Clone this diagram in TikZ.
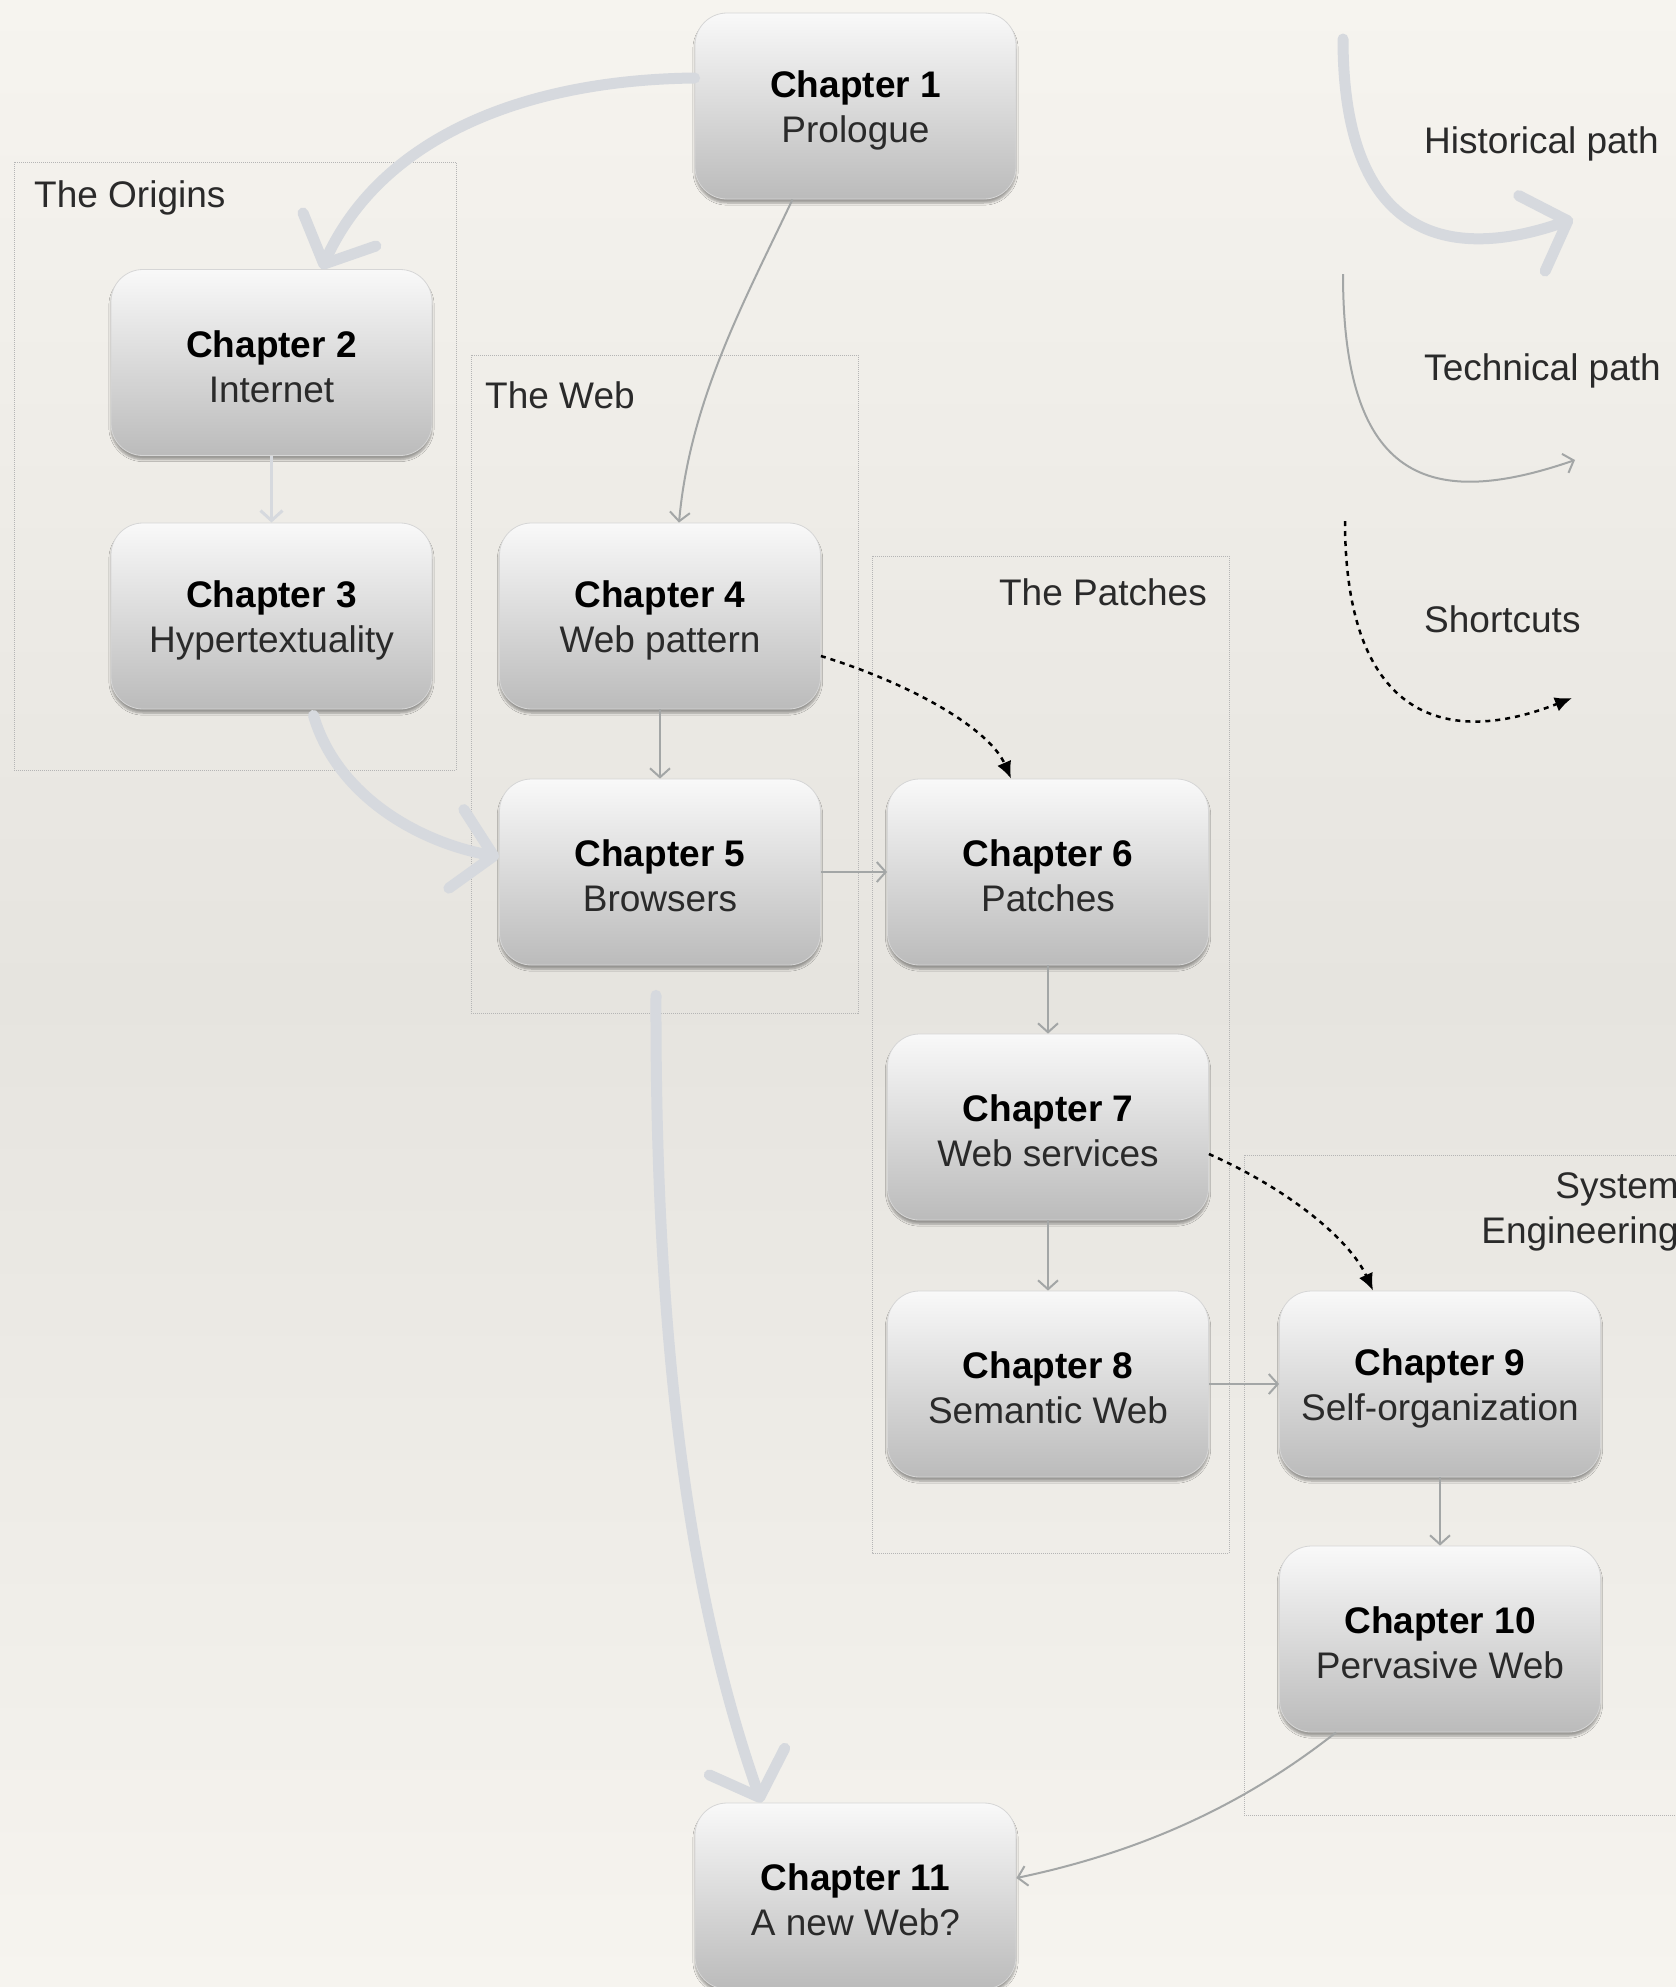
\documentclass[tikz,border=0pt]{standalone}
\usepackage{fontspec}
\setmainfont{Liberation Sans}
\usetikzlibrary{arrows.meta,shadows.blur,calc}
\definecolor{bgA}{HTML}{F6F4EF}
\definecolor{bgB}{HTML}{E6E4DF}
\definecolor{boxTop}{HTML}{F9F9F9}
\definecolor{boxBot}{HTML}{BBBBBB}
\definecolor{histC}{HTML}{D6D9DE}
\definecolor{techC}{HTML}{A3A6A6}
\definecolor{frameC}{HTML}{B5B5B5}
\definecolor{txtC}{HTML}{2A2A2A}
\newcommand\chtext[2]{\rule{0pt}{35pt}\textbf{\color{black}#1}\\#2}
\begin{document}
\begin{tikzpicture}[x=1pt,y=-1pt,
  chap/.style={rectangle, rounded corners=32pt, minimum width=321pt, minimum height=186pt,
    top color=boxTop, bottom color=boxBot, draw=boxBot!60!white, line width=0.8pt,
    align=center, font=\fontsize{37}{45}\selectfont, text=txtC,
    blur shadow={shadow xshift=0pt, shadow yshift=-4pt, shadow blur steps=6, shadow opacity=35}},
  hist/.style={draw=histC, line width=11pt, line cap=round, -{Straight Barb[length=38pt,width=80pt,round]}},
  tech/.style={draw=techC, line width=2pt, -{Straight Barb[length=9pt,width=20pt]}},
  lightarr/.style={draw=histC, line width=3pt, -{Straight Barb[length=10pt,width=22pt]}},
  shortc/.style={draw=black, line width=2.5pt, dash pattern=on 5pt off 5pt, -{Latex[length=17pt,width=15pt]}},
  grp/.style={draw=frameC, line width=1pt, densely dotted},
  lbl/.style={font=\fontsize{37}{45}\selectfont, text=txtC, inner sep=0pt},
]
\useasboundingbox (0,0) rectangle (1676,1987);
\shade[top color=bgA, bottom color=bgA, middle color=bgB] (0,0) rectangle (1676,1987);

% group frames
\draw[grp] (14,162) rectangle (456,770);
\draw[grp] (471,355) rectangle (858,1013);
\draw[grp] (872,556) rectangle (1229,1553);
\draw[grp] (1244,1155) rectangle (1700,1815);

\node[lbl, anchor=west] (gOrig) at (34,198) {The Origins};
\node[lbl, anchor=west] (gWeb) at (485,395) {The Web};
\node[lbl, anchor=east] (gPatch) at (1207,592) {The Patches};
\node[lbl, anchor=east, align=right] (gSys) at (1679,1212) {System\\Engineering};

% chapters
\node[chap] (c1) at (855.5,106) {\chtext{Chapter 1}{Prologue}};
\node[chap] (c2) at (271.5,362.5) {\chtext{Chapter 2}{Internet}};
\node[chap] (c3) at (271.5,616) {\chtext{Chapter 3}{Hypertextuality}};
\node[chap] (c4) at (660,616) {\chtext{Chapter 4}{Web pattern}};
\node[chap] (c5) at (660,872) {\chtext{Chapter 5}{Browsers}};
\node[chap] (c6) at (1048,872) {\chtext{Chapter 6}{Patches}};
\node[chap] (c7) at (1048,1127) {\chtext{Chapter 7}{Web services}};
\node[chap] (c8) at (1048,1384) {\chtext{Chapter 8}{Semantic Web}};
\node[chap] (c9) at (1440,1384) {\chtext{Chapter 9}{Self-organization}};
\node[chap] (c10) at (1440,1639) {\chtext{Chapter 10}{Pervasive Web}};
\node[chap] (c11) at (855.5,1896) {\chtext{Chapter 11}{A new Web?}};

% historical path
\draw[hist] ([yshift=28pt]c1.west) .. controls (520,80) and (380,140) .. ([xshift=50pt]c2.north);
\draw[hist] ([xshift=42pt,yshift=-6pt]c3.south) .. controls (335,790) and (410,840) .. ([yshift=15pt]c5.west);
\draw[hist] ([xshift=-4pt,yshift=-30pt]c5.south) .. controls (655,1350) and (690,1600) .. ([xshift=-94pt]c11.north);
\draw[lightarr] (c2.south) -- (c3.north);

% technical path
\draw[tech] ([xshift=-63pt]c1.south) .. controls (745,300) and (690,400) .. ([xshift=19pt]c4.north);
\draw[tech] (c4.south) -- (c5.north);
\draw[tech] (c5.east) -- (c6.west);
\draw[tech] (c6.south) -- (c7.north);
\draw[tech] (c7.south) -- (c8.north);
\draw[tech] (c8.east) -- (c9.west);
\draw[tech] (c9.south) -- (c10.north);
\draw[tech] ([xshift=-104pt]c10.south) .. controls (1250,1800) and (1150,1850) .. ([yshift=18pt]c11.east);

% shortcuts
\draw[shortc] ([yshift=-40pt]c4.east) .. controls (915,685) and (990,730) .. ([xshift=-37pt]c6.north);
\draw[shortc] ([yshift=-27pt]c7.east) .. controls (1290,1190) and (1350,1240) .. ([xshift=-67pt]c9.north);

% legend
\coordinate (hA) at (1343,39);
\coordinate (hB) at (1573,219);
\coordinate (tA) at (1343,274);
\coordinate (tB) at (1575,460);
\coordinate (sA) at (1345,521);
\coordinate (sB) at (1572,698);
\draw[hist] (hA) .. controls (1343,240) and (1450,262) .. (hB);
\draw[tech] (tA) .. controls (1343,482) and (1430,510) .. (tB);
\draw[shortc] (sA) .. controls (1345,712) and (1440,750) .. (sB);
\node[lbl, anchor=west] (lHist) at (1424,144) {Historical path};
\node[lbl, anchor=west] (lTech) at (1424,371) {Technical path};
\node[lbl, anchor=west] (lShort) at (1424,619) {Shortcuts};
\end{tikzpicture}
\end{document}
